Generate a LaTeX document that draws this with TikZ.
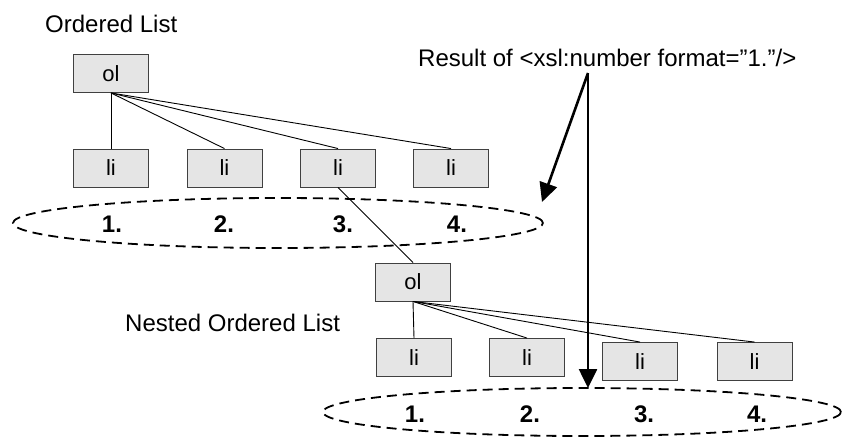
\documentclass[tikz,border=0pt]{standalone}
\usepackage{fontspec}
\setmainfont{Liberation Sans}
\usetikzlibrary{shapes.geometric,arrows.meta}
\begin{document}
\begin{tikzpicture}[x=1pt,y=-1pt,
  box/.style={draw=black!75, fill=black!10, line width=0.9pt, minimum width=75pt, minimum height=38pt, inner sep=0pt, font=\fontsize{22}{24}\selectfont},
  link/.style={line width=0.9pt, black},
  oval/.style={ellipse, draw, dash pattern=on 10pt off 6pt, line width=1.8pt, inner sep=0pt},
  num/.style={font=\fontsize{24}{26}\selectfont\bfseries, anchor=base},
  lbl/.style={font=\fontsize{24}{26}\selectfont, anchor=base west, inner sep=0pt},
  bigarrow/.style={line width=2.6pt, -{Triangle[length=19pt,width=18pt]}}
]
\useasboundingbox (0,0) rectangle (843,437);

% labels
\node[lbl] (t1) at (45,32) {Ordered List};
\node[lbl] (t2) at (125,331) {Nested Ordered List};
\node[lbl] (t3) at (418,66) {Result of <xsl:number format="1."/>};

% ellipses
\node[oval, minimum width=530pt, minimum height=50pt] (e1) at (278,223) {};
\node[oval, minimum width=518pt, minimum height=48pt] (e2) at (582,412) {};

% top tree
\node[box] (ol1) at (111,73.5) {ol};
\node[box] (a1) at (111,168) {li};
\node[box] (a2) at (224.5,168) {li};
\node[box] (a3) at (338,168) {li};
\node[box] (a4) at (451,168) {li};
\foreach \i in {1,...,4} \draw[link] (ol1.south) -- (a\i.north);

% nested tree
\node[box] (ol2) at (413,282) {ol};
\node[box] (b1) at (414,357.5) {li};
\node[box] (b2) at (527,357.5) {li};
\node[box] (b3) at (640,361.5) {li};
\node[box] (b4) at (754.5,361.5) {li};
\foreach \i in {1,...,4} \draw[link] (ol2.south) -- (b\i.north);
\draw[link] (a3.south) -- (ol2.north);

% numbers
\node[num] (n1) at (112,232) {1.};
\node[num] (n2) at (224,232) {2.};
\node[num] (n3) at (343,232) {3.};
\node[num] (n4) at (457,232) {4.};
\node[num] (m1) at (415,422) {1.};
\node[num] (m2) at (530,422) {2.};
\node[num] (m3) at (644,422) {3.};
\node[num] (m4) at (757,422) {4.};

% arrows
\coordinate (src) at (588,73);
\coordinate (tip1) at (542,202);
\coordinate (tip2) at (588,388);
\draw[bigarrow] (src) -- (tip1);
\draw[bigarrow] (src) -- (tip2);
\end{tikzpicture}
\end{document}
